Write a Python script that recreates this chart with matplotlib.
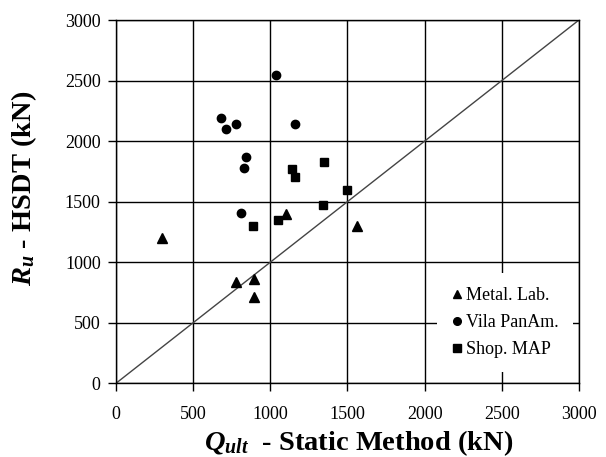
import matplotlib
matplotlib.use("Agg")
import matplotlib.pyplot as plt

plt.rcParams["font.family"] = ["Liberation Serif", "DejaVu Serif"]
plt.rcParams["mathtext.fontset"] = "custom"
plt.rcParams["mathtext.rm"] = "Liberation Serif:bold"
plt.rcParams["mathtext.it"] = "Liberation Serif:italic:bold"
plt.rcParams["mathtext.bf"] = "Liberation Serif:bold"

# data (kN)
metal_x = [300, 780, 895, 895, 1100, 1560]
metal_y = [1200, 840, 860, 710, 1400, 1300]

vila_x = [1040, 680, 715, 780, 1160, 840, 830, 810]
vila_y = [2545, 2190, 2100, 2140, 2140, 1865, 1775, 1410]

shop_x = [1350, 1140, 1160, 1495, 1340, 890, 1050]
shop_y = [1825, 1770, 1705, 1595, 1470, 1300, 1345]

ticks = [0, 500, 1000, 1500, 2000, 2500, 3000]
line_ends = [0, 3000]


def main():
    fig = plt.figure(figsize=(6.06, 4.57), dpi=100)
    ax = fig.add_axes([0.1914, 0.1613, 0.7640, 0.7949])

    ax.plot(line_ends, line_ends, color="#444444", lw=1.0, zorder=2)

    ax.plot(metal_x, metal_y, "^", color="black", ms=7.5, ls="none",
            label="Metal. Lab.", zorder=3)
    ax.plot(vila_x, vila_y, "o", color="black", ms=6, ls="none",
            label="Vila PanAm.", zorder=3)
    ax.plot(shop_x, shop_y, "s", color="black", ms=6, ls="none",
            label="Shop. MAP", zorder=3)

    ax.set_xlim(0, 3000)
    ax.set_ylim(0, 3000)
    ax.set_xticks(ticks)
    ax.set_yticks(ticks)
    ax.grid(True, color="black", lw=1.0)
    ax.set_axisbelow(True)
    for s in ax.spines.values():
        s.set_linewidth(1.0)
    ax.tick_params(direction="out", length=6, width=1, labelsize=13)
    ax.tick_params(axis="x", pad=10)
    ax.tick_params(axis="y", pad=5)

    ax.set_xlabel(r"$Q_{ult}$  - Static Method (kN)", fontsize=20.5,
                  fontweight="bold")
    ax.set_ylabel(r"$R_u$ - HSDT (kN)", fontsize=20.5, fontweight="bold")
    ax.xaxis.set_label_coords(0.523, -0.125)
    ax.yaxis.set_label_coords(-0.166, 0.537)

    leg = ax.legend(loc="lower left", bbox_to_anchor=(0.694, 0.03),
                    borderaxespad=0, fontsize=13, handlelength=0.6,
                    handletextpad=0.2, labelspacing=0.55, borderpad=0.8,
                    fancybox=False, framealpha=1)
    leg.get_frame().set_edgecolor("none")
    leg.set_zorder(5)
    for h in leg.legend_handles:
        h.set_markersize(5.5)

    fig.savefig("out.png", dpi=100)


if __name__ == "__main__":
    main()
